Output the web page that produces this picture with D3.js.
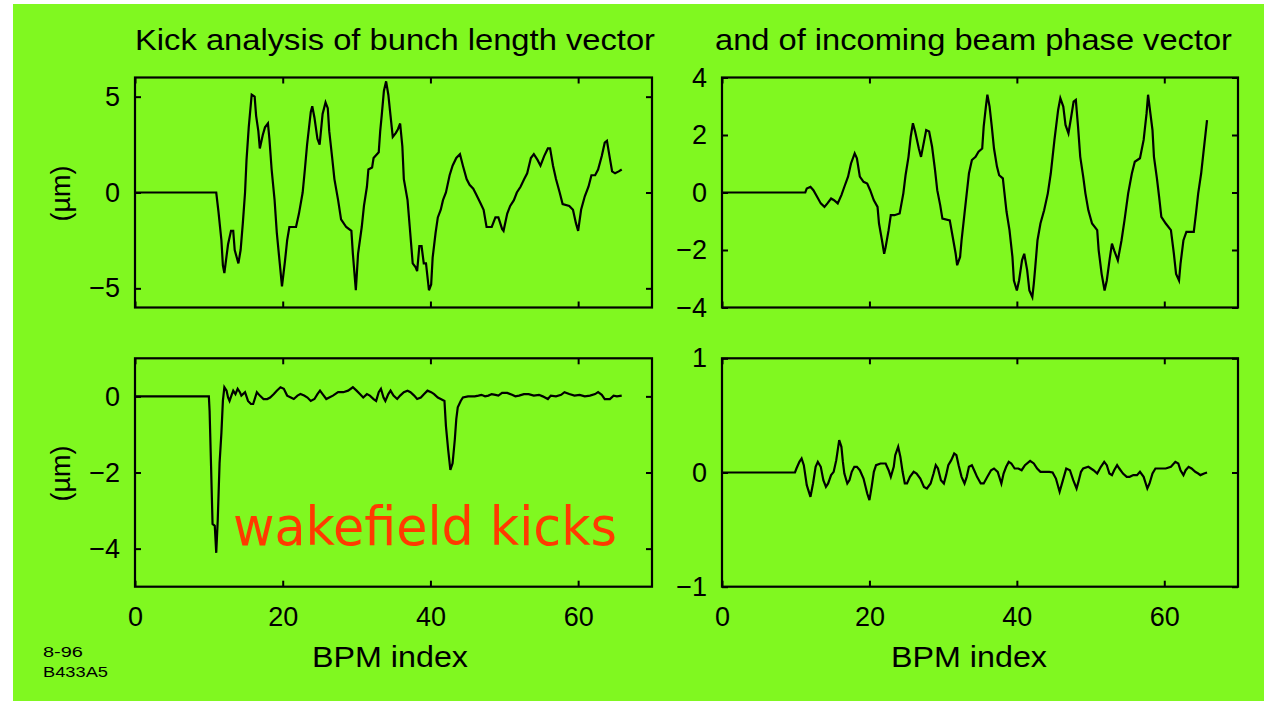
<!DOCTYPE html>
<html lang="en">
<head>
<meta charset="UTF-8">
<title>Kick analysis of bunch length vector</title>
<script src="https://d3js.org/d3.v7.min.js"></script>
<style>
    body { margin: 0; background: #ffffff; }
    svg { display: block; }
    .tick text { font-family: "Liberation Sans", Arial, sans-serif; font-size: 27px; fill: #000; }
    .tick line { stroke: #000; stroke-width: 2px; }
    .lbl { font-family: "Liberation Sans", Arial, sans-serif; fill: #000; }
</style>
</head>
<body>
<svg id="canvas" width="1264" height="701"></svg>
<script>
// kick vs BPM index: [BPM index, kick (um)]
const bunchKick = [[0,0],[11.0,0],[11.3,-1.0],[11.7,-2.5],[11.9,-3.8],[12.1,-4.2],[12.6,-2.7],[13.0,-2.0],[13.3,-2.0],[13.5,-3.0],
    [14.0,-3.7],[14.3,-3.0],[14.6,-1.6],[14.9,0.0],[15.1,1.7],[15.4,3.4],[15.8,5.1],[16.2,5.0],[16.4,4.0],[16.7,3.2],
    [16.9,2.3],[17.3,3.0],[17.6,3.4],[18.0,3.6],[18.2,2.8],[18.5,1.2],[18.9,-0.4],[19.2,-2.1],[19.6,-3.7],[19.9,-4.9],
    [20.3,-3.6],[20.6,-2.5],[20.9,-1.8],[21.8,-1.8],[22.2,-1.1],[22.7,0.0],[23.0,1.2],[23.3,2.5],[23.8,4.2],[24.0,4.5],
    [24.3,3.9],[24.7,2.8],[25.0,2.5],[25.4,4.1],[25.8,4.7],[26.1,4.4],[26.3,3.2],[26.7,1.8],[27.0,0.7],[27.5,-0.4],
    [27.9,-1.4],[28.6,-1.8],[29.3,-2.0],[29.5,-3.2],[29.9,-5.1],[30.2,-3.2],[30.7,-1.8],[31.0,-0.7],[31.4,0.3],[31.6,1.2],
    [32.1,1.3],[32.3,1.8],[33.0,2.1],[33.2,3.2],[33.4,4.0],[33.7,5.3],[34.0,5.8],[34.3,5.1],[34.6,4.0],[34.9,2.9],
    [35.3,3.1],[35.6,3.3],[35.9,3.6],[36.2,2.4],[36.4,0.7],[36.9,-0.4],[37.2,-1.8],[37.6,-3.7],[38.0,-3.9],[38.2,-4.1],
    [38.5,-2.8],[38.8,-2.8],[39.1,-3.7],[39.4,-3.7],[39.8,-5.1],[40.1,-4.8],[40.3,-3.4],[40.7,-2.1],[41.0,-1.3],[41.4,-0.9],
    [41.7,-0.4],[42.1,0.0],[42.6,0.9],[43.0,1.4],[43.5,1.8],[44.0,2.0],[44.4,1.4],[44.9,0.7],[45.3,0.4],[45.8,0.2],
    [46.2,-0.1],[46.7,-0.5],[47.2,-0.9],[47.6,-1.8],[48.3,-1.8],[48.8,-1.3],[49.2,-1.3],[49.7,-1.9],[49.9,-2.0],[50.4,-1.1],
    [50.8,-0.7],[51.3,-0.4],[51.7,0.0],[52.2,0.3],[52.7,0.7],[53.1,1.0],[53.6,1.8],[54.0,2.0],[54.5,1.7],[54.9,1.4],
    [55.4,1.9],[55.9,2.3],[56.2,2.3],[56.6,1.4],[57.0,0.7],[57.5,0.0],[57.9,-0.6],[58.8,-0.7],[59.3,-0.9],[59.7,-1.6],
    [60.0,-2.0],[60.4,-0.9],[60.9,-0.2],[61.4,0.3],[61.8,0.9],[62.3,0.9],[62.7,1.2],[63.2,1.9],[63.6,2.6],[63.9,2.7],
    [64.2,2.0],[64.6,1.1],[65.0,1.0],[65.5,1.1],[65.9,1.2]];

const phaseKick = [[0,0],[11.3,0],[11.5,0.14],[12.0,0.20],[12.4,0.08],[12.9,-0.15],[13.4,-0.38],[13.9,-0.50],[14.3,-0.38],[14.8,-0.21],
    [15.2,-0.27],[15.7,-0.38],[16.2,-0.09],[16.6,0.20],[17.1,0.55],[17.5,1.01],[18.0,1.36],[18.3,1.19],[18.7,0.55],[19.2,0.37],
    [19.7,0.31],[20.1,0.08],[20.6,-0.27],[21.1,-0.50],[21.3,-1.08],[21.7,-1.66],[22.0,-2.13],[22.2,-1.90],[22.6,-1.31],[22.9,-0.79],
    [23.4,-0.79],[24.1,-0.73],[24.6,-0.03],[24.9,0.60],[25.3,1.24],[25.6,1.94],[25.9,2.41],[26.2,2.12],[26.7,1.53],[27.0,1.24],
    [27.4,1.77],[27.7,2.17],[28.1,2.12],[28.5,1.59],[28.9,0.78],[29.2,0.08],[29.6,-0.44],[29.9,-0.91],[30.9,-0.97],[31.3,-1.55],
    [31.7,-2.13],[31.9,-2.53],[32.3,-2.24],[32.5,-1.66],[32.9,-0.73],[33.2,-0.03],[33.5,0.66],[33.9,1.13],[34.4,1.24],[34.8,1.42],
    [35.3,1.53],[35.5,2.29],[35.8,2.99],[36.0,3.40],[36.3,2.99],[36.6,2.29],[36.9,1.53],[37.3,0.90],[37.6,0.60],[38.1,0.49],
    [38.3,0.02],[38.6,-0.67],[39.0,-1.31],[39.4,-2.24],[39.6,-3.06],[40.0,-3.41],[40.3,-3.06],[40.7,-2.36],[41.0,-2.13],[41.4,-2.71],
    [41.7,-3.41],[42.1,-3.64],[42.3,-3.17],[42.5,-2.59],[42.8,-1.66],[43.2,-1.08],[43.7,-0.62],[44.2,-0.03],[44.6,0.66],[45.1,1.83],
    [45.6,2.87],[45.9,3.28],[46.3,2.99],[46.6,2.35],[47.0,2.06],[47.3,2.52],[47.7,3.16],[48.0,3.22],[48.3,2.29],[48.6,1.24],
    [49.0,0.55],[49.3,-0.03],[49.7,-0.62],[50.2,-1.08],[50.9,-1.31],[51.1,-2.01],[51.5,-2.83],[51.9,-3.41],[52.2,-3.06],[52.6,-2.30],
    [52.9,-1.78],[53.2,-2.01],[53.7,-2.36],[54.2,-1.66],[54.6,-0.97],[55.1,-0.03],[55.6,0.66],[56.0,1.07],[56.7,1.19],[57.2,1.83],
    [57.6,2.76],[57.8,3.40],[58.0,2.99],[58.4,2.17],[58.6,1.24],[59.0,0.49],[59.3,-0.15],[59.6,-0.85],[60.2,-1.08],[60.9,-1.31],
    [61.3,-2.13],[61.6,-2.83],[62.0,-3.06],[62.2,-2.48],[62.6,-1.66],[63.0,-1.37],[64.0,-1.37],[64.3,-0.73],[64.6,-0.03],[65.0,0.66],
    [65.3,1.36],[65.6,2.06],[65.8,2.52]];

const wakeKick = [[0,0],[10.0,0],[10.1,-0.38],[10.3,-1.84],[10.5,-3.35],[10.8,-3.40],[11.0,-4.11],[11.2,-3.26],[11.45,-1.76],[11.7,-0.96],
    [11.9,-0.12],[12.1,0.24],[12.4,0.15],[12.6,-0.03],[12.8,-0.12],[13.05,0.02],[13.3,0.15],[13.6,0.06],[13.9,0.20],[14.2,0.11],
    [14.4,0.02],[14.9,0.11],[15.3,-0.12],[15.7,-0.20],[16.0,-0.20],[16.5,0.11],[16.9,0.02],[17.4,-0.07],[17.9,-0.07],[18.3,-0.03],
    [18.8,0.06],[19.2,0.15],[19.7,0.24],[20.15,0.20],[20.6,0.02],[21.1,-0.03],[21.5,-0.07],[22.0,0.02],[22.4,0.06],[22.9,0.02],
    [23.35,-0.03],[23.8,-0.12],[24.3,-0.07],[24.7,0.06],[25.05,0.15],[25.4,0.06],[25.9,-0.07],[26.3,-0.03],[26.8,0.02],[27.5,0.11],
    [28.2,0.11],[28.85,0.15],[29.5,0.24],[30.0,0.15],[30.45,0.06],[30.9,-0.03],[31.4,0.06],[31.8,0.02],[32.3,-0.07],[32.65,-0.12],
    [33.0,0.11],[33.3,0.20],[33.65,-0.03],[33.9,-0.12],[34.3,0.06],[34.6,0.15],[35.0,0.02],[35.5,-0.07],[35.9,0.02],[36.4,0.11],
    [36.9,0.15],[37.3,0.11],[37.8,0.02],[38.2,-0.07],[38.7,-0.03],[39.15,0.06],[39.6,0.15],[40.1,0.11],[40.5,0.06],[41.0,-0.03],
    [41.4,-0.07],[41.9,-0.12],[42.1,-0.78],[42.4,-1.40],[42.7,-1.93],[43.0,-1.76],[43.3,-1.14],[43.5,-0.60],[43.7,-0.29],[44.1,-0.12],
    [44.4,-0.03],[45.1,0],[46.0,0],[46.5,0.02],[46.9,0.04],[47.4,0],[47.85,0.02],[48.3,0.06],[48.8,0.04],[49.2,0.02],
    [49.7,0.09],[50.4,0.09],[51.05,0.04],[51.5,0],[52.0,0.02],[52.65,0.06],[53.3,0.06],[54.0,0.02],[54.7,0.04],[55.2,0],
    [55.9,-0.07],[56.3,0.02],[57.0,0],[57.7,0.04],[58.15,0.11],[58.8,0.06],[59.5,0.02],[60.2,0.04],[60.9,0],[61.6,0.02],
    [62.3,0.06],[62.7,0.11],[63.2,0.04],[63.6,-0.07],[64.3,-0.07],[64.8,0.02],[65.25,0],[65.9,0.02]];

const residKick = [[0,0],[9.9,0],[10.1,0.035],[10.5,0.093],[10.8,0.123],[11.1,0.064],[11.5,-0.111],[12.0,-0.213],[12.35,-0.096],[12.7,0.05],
    [13.0,0.093],[13.4,0.05],[13.75,-0.067],[14.1,-0.126],[14.4,-0.096],[14.8,-0.023],[15.15,0.006],[15.5,0.108],[15.7,0.196],[15.9,0.283],
    [16.2,0.225],[16.4,0.093],[16.6,-0.009],[17.0,-0.096],[17.3,-0.067],[17.6,0.006],[17.95,0.05],[18.3,0.05],[18.7,0.02],[19.2,-0.053],
    [19.7,-0.184],[20.0,-0.242],[20.3,-0.126],[20.6,0.006],[20.9,0.064],[21.5,0.079],[22.2,0.079],[22.6,0.02],[22.9,-0.038],[23.3,0.05],
    [23.5,0.152],[23.9,0.225],[24.2,0.137],[24.5,0.006],[24.8,-0.096],[25.1,-0.096],[25.5,-0.038],[26.0,0.006],[26.4,-0.009],[26.9,-0.053],
    [27.4,-0.126],[27.8,-0.14],[28.3,-0.096],[28.7,-0.009],[29.0,0.064],[29.3,0.035],[29.7,-0.067],[30.1,-0.096],[30.4,-0.023],[30.7,0.064],
    [31.1,0.108],[31.5,0.166],[31.8,0.152],[32.1,0.064],[32.5,-0.038],[32.9,-0.096],[33.2,-0.038],[33.5,0.05],[33.9,0.064],[34.3,0.006],
    [34.6,-0.038],[35.1,-0.096],[35.5,-0.096],[36.0,-0.038],[36.5,0.02],[36.9,0.035],[37.4,0.006],[37.9,-0.096],[38.2,-0.009],[38.55,0.05],
    [38.9,0.093],[39.25,0.079],[39.7,0.035],[40.2,0.035],[40.65,0.02],[41.1,0.064],[41.8,0.102],[42.3,0.079],[42.75,0.035],[43.2,0.006],
    [43.9,0.006],[44.4,0.006],[44.85,0],[45.3,-0.053],[45.8,-0.169],[46.25,-0.067],[46.7,0.035],[47.2,0.02],[47.65,-0.067],[48.1,-0.14],
    [48.35,-0.082],[48.7,0.006],[49.0,0.035],[49.7,0.05],[50.4,0.02],[50.9,-0.009],[51.4,0.05],[51.85,0.093],[52.2,0.064],[52.55,-0.009],
    [52.9,-0.023],[53.2,0.02],[53.6,0.064],[53.9,0.035],[54.4,-0.009],[54.9,-0.038],[55.3,-0.038],[55.8,-0.023],[56.3,-0.023],[56.7,0.006],
    [57.2,-0.038],[57.7,-0.14],[58.0,-0.096],[58.4,-0.009],[58.8,0.035],[59.5,0.035],[60.2,0.035],[60.9,0.05],[61.5,0.093],[61.9,0.079],
    [62.2,0.02],[62.6,-0.023],[62.9,0.02],[63.3,0.05],[63.7,0.035],[64.2,0.006],[64.6,-0.009],[64.9,-0.023],[65.4,-0.009],[65.8,0]];

const xDomain = [0, 70];
const xTicks = [0, 20, 40, 60];
const bunchTicks = [-5, 0, 5];
const phaseTicks = [-4, -2, 0, 2, 4];
const wakeTicks = [-4, -2, 0];
const residTicks = [-1, 0, 1];

let svg = d3.select('#canvas');
let fmt = d3.format('d');

// green slide background
svg.append('rect').attr('x', 13).attr('y', 4).attr('width', 1251).attr('height', 697).attr('fill', '#80f820');

let panels = [
    {x: 135, y: 77.5, w: 517, h: 230, yDom: [-6, 6], yTicks: bunchTicks, data: bunchKick, xLabels: false, unit: true},
    {x: 722, y: 77.5, w: 516, h: 230, yDom: [-4, 4], yTicks: phaseTicks, data: phaseKick, xLabels: false, unit: false},
    {x: 135, y: 358.3, w: 517, h: 228.4, yDom: [-5, 1], yTicks: wakeTicks, data: wakeKick, xLabels: true, unit: true},
    {x: 722, y: 358.3, w: 516, h: 228.4, yDom: [-1, 1], yTicks: residTicks, data: residKick, xLabels: true, unit: false}
];

panels.forEach(function (p) {
    let g = svg.append('g').attr('transform', `translate(${p.x},${p.y})`);
    let xs = d3.scaleLinear().domain(xDomain).range([0, p.w]);
    let ys = d3.scaleLinear().domain(p.yDom).range([p.h, 0]);

    // bottom axis (labels only on the lower row)
    g.append('g').attr('transform', `translate(0,${p.h})`)
        .call(d3.axisBottom(xs).tickValues(xTicks).tickSizeInner(-6).tickSizeOuter(0).tickPadding(20)
            .tickFormat(p.xLabels ? fmt : ''));
    g.append('g').call(d3.axisTop(xs).tickValues(xTicks).tickSizeInner(-6).tickSizeOuter(0).tickFormat(''));
    g.append('g').call(d3.axisLeft(ys).tickValues(p.yTicks).tickSizeInner(-6).tickSizeOuter(0).tickPadding(15).tickFormat(fmt));
    g.append('g').attr('transform', `translate(${p.w},0)`)
        .call(d3.axisRight(ys).tickValues(p.yTicks).tickSizeInner(-6).tickSizeOuter(0).tickFormat(''));
    g.selectAll('.domain').remove();
    g.selectAll('.tick text').attr('font-family', null).attr('font-size', null);

    g.append('rect').attr('width', p.w).attr('height', p.h)
        .attr('fill', 'none').attr('stroke', 'black').attr('stroke-width', 2.2);

    let line = d3.line().x(d => xs(d[0])).y(d => ys(d[1]));
    g.append('path').datum(p.data)
        .attr('d', line)
        .attr('fill', 'none')
        .attr('stroke', 'black')
        .attr('stroke-width', 2.2)
        .attr('stroke-linejoin', 'miter');

    if (p.unit) {
        svg.append('text').attr('class', 'lbl')
            .attr('transform', `translate(70,${p.y + p.h / 2 + 1}) rotate(-90)`)
            .attr('text-anchor', 'middle')
            .attr('font-size', 27)
            .text('(\u00b5m)');
    }
    if (p.xLabels) {
        svg.append('text').attr('class', 'lbl')
            .attr('x', p.x === 135 ? 312 : 891).attr('y', 667)
            .attr('font-size', 30)
            .attr('textLength', 156).attr('lengthAdjust', 'spacingAndGlyphs')
            .text('BPM index');
    }
});

// titles
svg.append('text').attr('class', 'lbl').attr('x', 135).attr('y', 50)
    .attr('font-size', 29).attr('textLength', 520).attr('lengthAdjust', 'spacingAndGlyphs')
    .text('Kick analysis of bunch length vector');
svg.append('text').attr('class', 'lbl').attr('x', 715).attr('y', 50)
    .attr('font-size', 29).attr('textLength', 517).attr('lengthAdjust', 'spacingAndGlyphs')
    .text('and of incoming beam phase vector');

// annotation
svg.append('text').attr('x', 233).attr('y', 545)
    .attr('font-family', '"DejaVu Sans", Verdana, sans-serif')
    .attr('font-size', 54).attr('fill', '#ff3a00')
    .attr('textLength', 384).attr('lengthAdjust', 'spacingAndGlyphs')
    .text('wakefield kicks');

// figure id in the corner
svg.append('text').attr('class', 'lbl').attr('x', 43).attr('y', 657)
    .attr('font-size', 14).attr('fill', '#333').attr('textLength', 40).attr('lengthAdjust', 'spacingAndGlyphs')
    .text('8-96');
svg.append('text').attr('class', 'lbl').attr('x', 43).attr('y', 677)
    .attr('font-size', 14).attr('fill', '#333').attr('textLength', 65).attr('lengthAdjust', 'spacingAndGlyphs')
    .text('B433A5');
</script>
</body>
</html>
